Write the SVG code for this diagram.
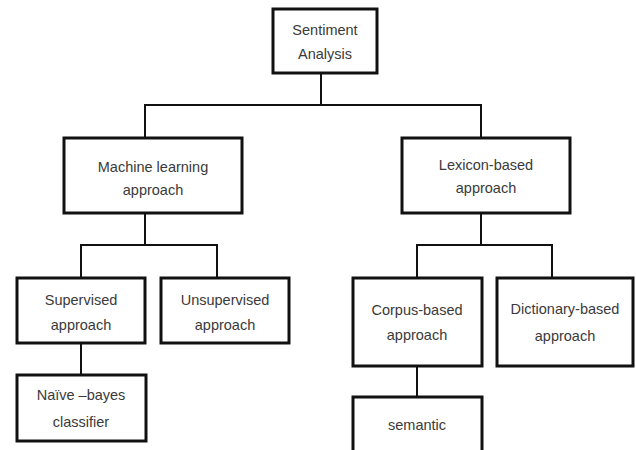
<svg xmlns="http://www.w3.org/2000/svg" width="636" height="450" viewBox="0 0 636 450">
<style>
.box{fill:#fff;stroke:#111;stroke-width:3}
.t{font-family:"Liberation Sans",Arial,sans-serif;font-size:14.5px;fill:#3a3a3a;text-anchor:middle}
.c{fill:none;stroke:#111;stroke-width:2}
</style>
<rect width="636" height="450" fill="#fff"/>
<g id="connectors">
<path class="c" d="M321 73V105M145 138V105H481V138"/>
<path class="c" d="M145 213V245M81 278V245H217V278"/>
<path class="c" d="M481 213V245M417 278V245H552V278"/>
<path class="c" d="M81 343V375"/>
<path class="c" d="M417 366V397"/>
</g>
<g id="sentiment"><rect class="box" x="273" y="9" width="104" height="64"/><text class="t" x="325" y="35">Sentiment</text><text class="t" x="325" y="59">Analysis</text></g>
<g id="ml"><rect class="box" x="64" y="138" width="178" height="75"/><text class="t" x="153" y="172">Machine learning</text><text class="t" x="153" y="195">approach</text></g>
<g id="lexicon"><rect class="box" x="402" y="138" width="168" height="75"/><text class="t" x="486" y="170">Lexicon-based</text><text class="t" x="486" y="193">approach</text></g>
<g id="supervised"><rect class="box" x="17" y="278" width="128" height="65"/><text class="t" x="81" y="305">Supervised</text><text class="t" x="81" y="330">approach</text></g>
<g id="unsupervised"><rect class="box" x="161" y="278" width="128" height="65"/><text class="t" x="225" y="305">Unsupervised</text><text class="t" x="225" y="330">approach</text></g>
<g id="naive"><rect class="box" x="17" y="375" width="129" height="66"/><text class="t" x="81" y="400">Naïve –bayes</text><text class="t" x="81" y="427">classifier</text></g>
<g id="corpus"><rect class="box" x="353" y="278" width="129" height="88"/><text class="t" x="417" y="315">Corpus-based</text><text class="t" x="417" y="340">approach</text></g>
<g id="dictionary"><rect class="box" x="497" y="278" width="136" height="88"/><text class="t" x="565" y="314">Dictionary-based</text><text class="t" x="565" y="341">approach</text></g>
<g id="semantic"><rect class="box" x="353" y="397" width="129" height="60"/><text class="t" x="417" y="430">semantic</text></g>
</svg>
